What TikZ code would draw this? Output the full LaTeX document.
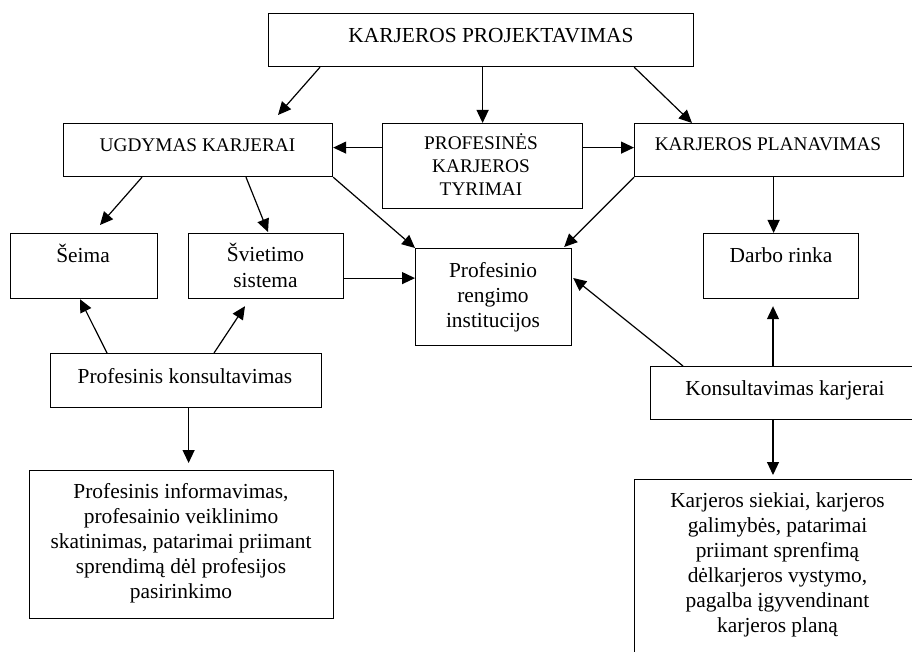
\documentclass[tikz,border=0pt]{standalone}
\usepackage{fontspec}
\setmainfont{Liberation Serif}
\usetikzlibrary{arrows.meta,calc}

\tikzset{
  box/.style={draw, line width=1.2pt, rectangle, inner sep=0pt, anchor=north west},
  % multi-line texts sit on the baseline of their last line
  big/.style={font=\fontsize{21.4}{25}\selectfont, inner sep=0pt, align=center, anchor=base},
  small/.style={font=\fontsize{19.3}{23}\selectfont, inner sep=0pt, align=center, anchor=base},
  link/.style={line width=1.2pt, -{Triangle[length=13pt,width=12pt]}},
}

\begin{document}
\begin{tikzpicture}[x=1pt,y=-1pt]
\useasboundingbox (0,0) rectangle (912,652);
\clip (0,0) rectangle (912,652);
\fill[white] (0,0) rectangle (912,652);

% boxes
\node[box, minimum width=425pt, minimum height=53pt] (top)   at (268,13)  {};
\node[box, minimum width=269pt, minimum height=53pt] (ug)    at (63,123)  {};
\node[box, minimum width=200pt, minimum height=85pt] (prof)  at (382,123) {};
\node[box, minimum width=269pt, minimum height=53pt] (plan)  at (634,123) {};
\node[box, minimum width=147pt, minimum height=65pt] (seima) at (10,233)  {};
\node[box, minimum width=155pt, minimum height=65pt] (svi)   at (188,233) {};
\node[box, minimum width=156pt, minimum height=97pt] (inst)  at (415,248) {};
\node[box, minimum width=155pt, minimum height=65pt] (darbo) at (703,233) {};
\node[box, minimum width=271pt, minimum height=54pt] (pk)    at (50,353)  {};
\node[box, minimum width=304pt, minimum height=148pt] (bl)   at (29,470)  {};
\node[box, minimum width=266pt, minimum height=53pt] (kk)    at (650,366) {};
\node[box, minimum width=282pt, minimum height=181pt] (br)   at (634,479) {};

% texts
\node[big]   (topt)   at (491,43)  {KARJEROS PROJEKTAVIMAS};
\node[small] (ugt)    at (197.5,152) {UGDYMAS KARJERAI};
\node[small] (proft)  at (481,196) {PROFESINĖS\\KARJEROS\\TYRIMAI};
\node[small] (plant)  at (768,151) {KARJEROS PLANAVIMAS};
\node[big]   (seimat) at (83,262)  {Šeima};
\node[big]   (svit)   at (265.5,287) {Švietimo\\sistema};
\node[big]   (instt)  at (493,327) {Profesinio\\rengimo\\institucijos};
\node[big]   (darbot) at (781,262) {Darbo rinka};
\node[big]   (pkt)    at (185,383) {Profesinis konsultavimas};
\node[big]   (blt)    at (181,598) {Profesinis informavimas,\\profesainio veiklinimo\\skatinimas, patarimai priimant\\sprendimą dėl profesijos\\pasirinkimo};
\node[big]   (kkt)    at (785,395) {Konsultavimas karjerai};
\node[big]   (brt)    at (777.5,632) {Karjeros siekiai, karjeros\\galimybės, patarimai\\priimant sprenfimą\\dėlkarjeros vystymo,\\pagalba įgyvendinant\\karjeros planą};

% connectors
\draw[link] ([xshift=52pt]top.south west) -- ([xshift=215pt,yshift=8pt]ug.north west);
\draw[link] (top.south -| prof.north) -- (prof.north);
\draw[link] ([xshift=-60pt]top.south east) -- ([xshift=58pt]plan.north west);
\draw[link] ([yshift=2.5pt]ug.east -| prof.west) -- ([yshift=2.5pt]ug.east);
\draw[link] ([yshift=2.5pt]plan.west -| prof.east) -- ([yshift=2.5pt]plan.west);
\draw[link] ([xshift=79pt]ug.south west) -- ([xshift=90pt,yshift=8pt]seima.north west);
\draw[link] ([xshift=183pt]ug.south west) -- ([xshift=80pt,yshift=1pt]svi.north west);
\draw[link] (ug.south east) -- (inst.north west);
\draw[link] (plan.south west) -- ([xshift=-8pt,yshift=1pt]inst.north east);
\draw[link] ([xshift=4.5pt]plan.south) -- ([xshift=4.5pt]plan.south |- darbo.north);
\draw[link] ([yshift=-12pt]svi.east) -- ([yshift=-12pt]svi.east -| inst.west);
\draw[link] ([xshift=57pt]pk.north west) -- ([xshift=70pt]seima.south west);
\draw[link] ([xshift=164pt]pk.north west) -- ([xshift=57pt,yshift=-7pt]svi.south west);
\draw[link] ([xshift=2.5pt]pk.south) -- ([xshift=2.5pt,yshift=7pt]pk.south |- bl.north);
\draw[link] ([xshift=123pt]kk.north west) -- ([xshift=123pt,yshift=-7pt]kk.north west |- darbo.south);
\draw[link] ([xshift=33pt]kk.north west) -- ([xshift=1pt,yshift=-30pt]inst.north east);
\draw[link] ([xshift=123pt]kk.south west) -- ([xshift=123pt,yshift=4pt]kk.south west |- br.north);
\end{tikzpicture}
\end{document}
